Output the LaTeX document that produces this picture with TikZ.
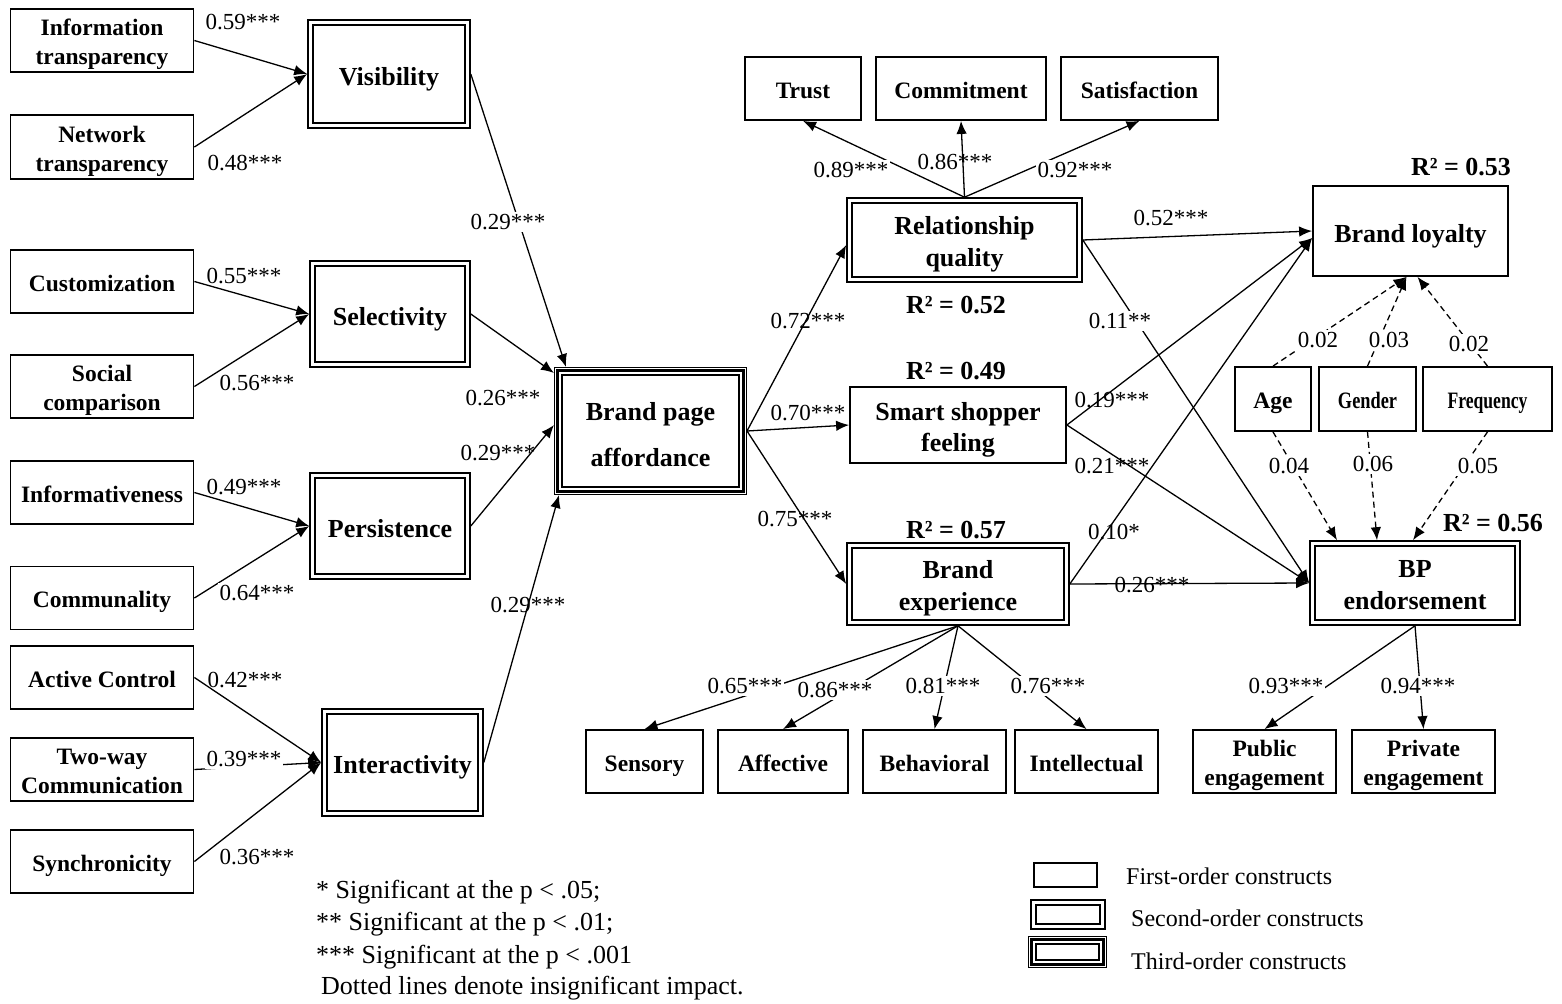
\documentclass[tikz,border=0pt]{standalone}
\usepackage{fontspec}
\usepackage{graphicx}
\setmainfont{Liberation Serif}
\usetikzlibrary{arrows.meta,calc}

\tikzset{
  firstshape/.style={draw, line width=1.8pt, outer sep=0.9pt, inner sep=0pt},
  secondshape/.style={draw, line width=1.8pt, double, double distance=3pt, outer sep=3.3pt, inner sep=0pt},
  thirdshape/.style={draw, line width=1pt, outer sep=0.5pt, inner sep=0pt},
  txt/.style={align=center, font=\bfseries\fontsize{23.5}{29}\selectfont,
    execute at begin node={\rule{0pt}{1.1em}},
    execute at end node={\rule[-0.25em]{0pt}{0pt}}},
  first/.style={firstshape, txt},
  firstbig/.style={first, font=\bfseries\fontsize{26}{31}\selectfont},
  second/.style={secondshape, txt, font=\bfseries\fontsize{26}{32}\selectfont},
  third/.style={thirdshape, txt, font=\bfseries\fontsize{26}{32}\selectfont},
  conn/.style={line width=1.3pt, -{Latex[length=13pt,width=10.5pt]}},
  dconn/.style={conn, dash pattern=on 6pt off 4pt},
  lab/.style={inner sep=2pt, font=\fontsize{23}{27}\selectfont, fill=white},
  labn/.style={lab, fill=none},
  rsq/.style={inner sep=0pt, font=\bfseries\fontsize{26}{30}\selectfont},
  note/.style={inner sep=0pt, anchor=west, font=\fontsize{26}{30}\selectfont},
  legt/.style={inner sep=0pt, anchor=west, font=\fontsize{24}{28}\selectfont},
}
\newcommand\firstln[1][1.08em]{\rule{0pt}{#1}}
\newcommand\thirdframe[1]{%
  \draw[line width=2.7pt] ($(#1.north west)+(3.3,3.3)$) rectangle ($(#1.south east)+(-3.3,-3.3)$);
  \draw[line width=1.3pt] ($(#1.north west)+(8,8)$) rectangle ($(#1.south east)+(-8,-8)$);}

\begin{document}
\begin{tikzpicture}[x=1pt,y=-1pt]
\useasboundingbox[fill=white] (0,0) rectangle (1562,1003);

% ---------- left first-order constructs
\node[first, minimum width=183pt, minimum height=63pt] (infot) at (102,40.5) {\firstln Information\\transparency};
\node[first, minimum width=183pt, minimum height=64pt] (nett)  at (102,147) {\firstln Network\\transparency};
\node[first, minimum width=183pt, minimum height=63pt] (cust)  at (102,281.5) {Customization};
\node[first, minimum width=183pt, minimum height=63pt] (soc)   at (102,386.5) {\firstln Social\\comparison};
\node[first, minimum width=183pt, minimum height=63pt] (inf)   at (102,492.5) {Informativeness};
\node[first, minimum width=183pt, minimum height=63pt] (comm)  at (102,598) {Communality};
\node[first, minimum width=183pt, minimum height=63pt] (act)   at (102,677.5) {Active Control};
\node[first, minimum width=183pt, minimum height=63pt] (two)   at (102,769.5) {\firstln Two-way\\Communication};
\node[first, minimum width=183pt, minimum height=63pt] (sync)  at (102,861.5) {Synchronicity};

% ---------- second-order left
\node[second, minimum width=157pt, minimum height=103pt] (vis)   at (389,74) {Visibility};
\node[second, minimum width=155pt, minimum height=101pt] (sel)   at (390,314) {Selectivity};
\node[second, minimum width=155pt, minimum height=101pt] (pers)  at (390,526) {Persistence};
\node[second, minimum width=156pt, minimum height=102pt] (inter) at (402.5,762.5) {Interactivity};

% ---------- third-order
\node[third, minimum width=192pt, minimum height=127pt] (bpa) at (650.5,431) {\firstln[1.23em]Brand page\\[14pt]affordance};
\thirdframe{bpa}

% ---------- middle
\node[first, minimum width=116pt, minimum height=63pt] (trust)  at (803,88.5) {Trust};
\node[first, minimum width=170pt, minimum height=63pt] (commit) at (961,88.5) {Commitment};
\node[first, minimum width=157pt, minimum height=63pt] (satis)  at (1139.5,88.5) {Satisfaction};

\node[second, minimum width=230pt, minimum height=79pt] (rq) at (964.5,240) {\firstln Relationship\\quality};
\node[firstbig, minimum width=216pt, minimum height=76pt] (ssf) at (958,425) {\firstln Smart shopper\\feeling};
\node[second, minimum width=217pt, minimum height=77pt] (be) at (958,584) {\firstln Brand\\experience};

\node[firstbig, minimum width=195pt, minimum height=90pt] (bl) at (1410.5,231) {Brand loyalty};
\node[first, minimum width=76pt, minimum height=64pt] (age) at (1273,399) {Age};
\node[first, minimum width=97pt, minimum height=64pt] (gender) at (1367.5,399) {\scalebox{0.78}[1]{Gender}};
\node[first, minimum width=129pt, minimum height=64pt] (freq) at (1487.5,399) {\scalebox{0.75}[1]{Frequency}};
\node[second, minimum width=205pt, minimum height=79pt] (bpe) at (1415,583) {\firstln BP\\endorsement};

\node[first, minimum width=117pt, minimum height=63pt] (sens)  at (644.5,761.5) {Sensory};
\node[first, minimum width=130pt, minimum height=63pt] (aff)   at (783,761.5) {Affective};
\node[first, minimum width=143pt, minimum height=63pt] (beh)   at (934.5,761.5) {Behavioral};
\node[first, minimum width=143pt, minimum height=63pt] (intel) at (1086.5,761.5) {Intellectual};
\node[first, minimum width=143pt, minimum height=63pt] (pub)   at (1264.5,761.5) {\firstln Public\\engagement};
\node[first, minimum width=143pt, minimum height=63pt] (priv)  at (1423.5,761.5) {\firstln Private\\engagement};

% ---------- connectors: left
\draw[conn] (infot.east) -- (vis.west);
\draw[conn] (nett.east) -- (vis.west);
\draw[conn] (cust.east) -- (sel.west);
\draw[conn] (soc.east) -- (sel.west);
\draw[conn] (inf.east) -- (pers.west);
\draw[conn] (comm.east) -- (pers.west);
\draw[conn] (act.east) -- (inter.west);
\draw[conn] (two.east) -- (inter.west);
\draw[conn] (sync.east) -- (inter.west);

\draw[conn] (vis.east) -- ($(bpa.north west)+(12,0)$);
\draw[conn] (sel.east) -- ($(bpa.north west)+(0,6)$);
\draw[conn] (pers.east) -- ($(bpa.west)+(0,-6)$);
\draw[conn] (inter.east) -- ($(bpa.south west)+(5,0)$);

% ---------- connectors: middle
\draw[conn] (bpa.east) -- ($(rq.west)+(0,5)$);
\draw[conn] (bpa.east) -- (ssf.west);
\draw[conn] (bpa.east) -- (be.west);

\draw[conn] (rq.north) -- (trust.south);
\draw[conn] (rq.north) -- (commit.south);
\draw[conn] (rq.north) -- (satis.south);

\draw[conn] (rq.east) -- (bl.west);
\draw[conn] (rq.east) -- (bpe.west);
\draw[conn] (ssf.east) -- ($(bl.west)+(0,7)$);
\draw[conn] (ssf.east) -- (bpe.west);
\draw[conn] (be.east) -- ($(bl.west)+(0,7)$);
\draw[conn] (be.east) -- (bpe.west);

\draw[dconn] (age.north) -- ($(bl.south)+(-4,0)$);
\draw[dconn] (gender.north) -- ($(bl.south)+(-4,0)$);
\draw[dconn] (freq.north) -- ($(bl.south)+(7,0)$);
\draw[dconn] (age.south) -- ($(bpe.north)+(-78,0)$);
\draw[dconn] (gender.south) -- ($(bpe.north)+(-38,0)$);
\draw[dconn] (freq.south) -- ($(bpe.north)+(-2,0)$);

\draw[conn] (be.south) -- (sens.north);
\draw[conn] (be.south) -- (aff.north);
\draw[conn] (be.south) -- (beh.north);
\draw[conn] (be.south) -- (intel.north);
\draw[conn] (bpe.south) -- (pub.north);
\draw[conn] (bpe.south) -- (priv.north);

% ---------- path labels
\node[lab]  (l1)  at (243,22) {0.59***};
\node[lab]  (l2)  at (245,163) {0.48***};
\node[lab]  (l3)  at (508,222) {0.29***};
\node[labn] (l4)  at (244,276) {0.55***};
\node[lab]  (l5)  at (257,383) {0.56***};
\node[lab]  (l6)  at (503,398) {0.26***};
\node[labn] (l7)  at (244,487) {0.49***};
\node[lab]  (l8)  at (257,593) {0.64***};
\node[labn] (l9)  at (498,453) {0.29***};
\node[labn] (l10) at (528,605) {0.29***};
\node[labn] (l11) at (245,680) {0.42***};
\node[lab]  (l12) at (244,759) {0.39***};
\node[lab]  (l13) at (257,857) {0.36***};
\node[labn] (l14) at (808,321) {0.72***};
\node[labn] (l15) at (808,413) {0.70***};
\node[labn] (l16) at (795,519) {0.75***};
\node[lab]  (l17) at (851,170) {0.89***};
\node[labn] (l18) at (955,162) {0.86***};
\node[lab]  (l19) at (1075,170) {0.92***};
\node[lab]  (l20) at (1171,218) {0.52***};
\node[lab]  (l21) at (1120,321) {0.11**};
\node[labn] (l22) at (1112,400) {0.19***};
\node[labn] (l23) at (1112,466) {0.21***};
\node[labn] (l24) at (1114,532) {0.10*};
\node[labn] (l25) at (1152,585) {0.26***};
\node[lab]  (l26) at (1318,340) {0.02};
\node[lab]  (l27) at (1389,340) {0.03};
\node[lab]  (l28) at (1469,344) {0.02};
\node[lab]  (l29) at (1289,466) {0.04};
\node[lab]  (l30) at (1373,464) {0.06};
\node[lab]  (l31) at (1478,466) {0.05};
\node[lab]  (l32) at (745,686) {0.65***};
\node[lab]  (l33) at (835,690) {0.86***};
\node[lab]  (l34) at (943,686) {0.81***};
\node[lab]  (l35) at (1048,686) {0.76***};
\node[lab]  (l36) at (1286,686) {0.93***};
\node[lab]  (l37) at (1418,686) {0.94***};

% ---------- R squared
\node[rsq] (r1) at (956,305) {R² = 0.52};
\node[rsq] (r2) at (956,371) {R² = 0.49};
\node[rsq] (r3) at (956,530) {R² = 0.57};
\node[rsq] (r4) at (1461,167) {R² = 0.53};
\node[rsq] (r5) at (1493,523) {R² = 0.56};

% ---------- notes
\node[note] (n1) at (316,892) {* Significant at the p < .05;};
\node[note] (n2) at (316,924) {** Significant at the p < .01;};
\node[note] (n3) at (316,957) {*** Significant at the p < .001};
\node[note] (n4) at (321,988) {Dotted lines denote insignificant impact.};

% ---------- legend
\node[firstshape, minimum width=63pt, minimum height=24pt] (lg1) at (1065.5,875) {};
\node[secondshape, minimum width=69pt, minimum height=24pt] (lg2) at (1068,914.5) {};
\node[thirdshape, minimum width=78pt, minimum height=31pt] (lg3) at (1067.5,952) {};
\thirdframe{lg3}
\node[legt] (t1) at (1126,876) {First-order constructs};
\node[legt] (t2) at (1131,918) {Second-order constructs};
\node[legt] (t3) at (1131,961) {Third-order constructs};
\end{tikzpicture}
\end{document}
